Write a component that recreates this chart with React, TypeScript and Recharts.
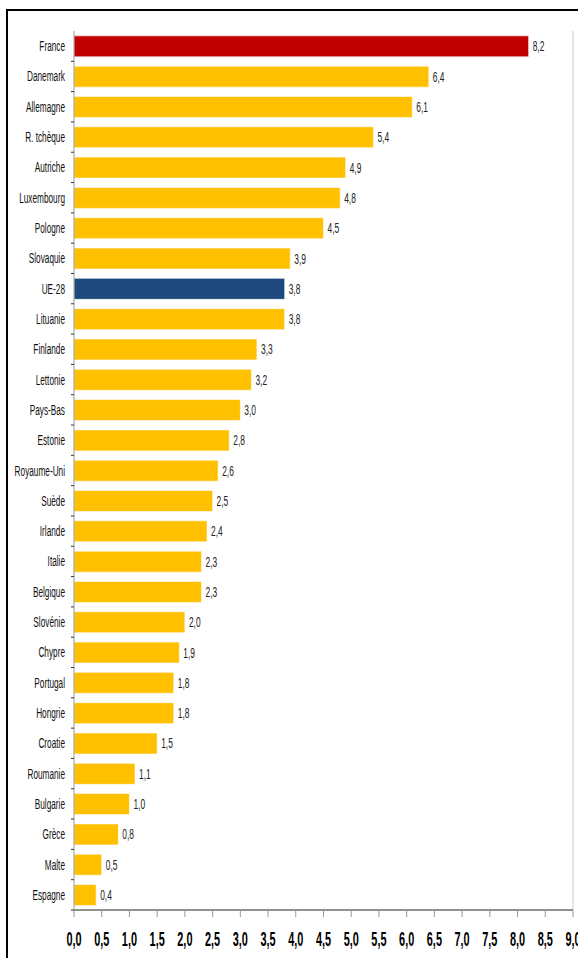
import React from "react";
import { BarChart, Bar, XAxis, YAxis, Cell, LabelList, ReferenceLine } from "recharts";

const countries = [
  "France", "Danemark", "Allemagne", "R. tchèque", "Autriche", "Luxembourg",
  "Pologne", "Slovaquie", "UE-28", "Lituanie", "Finlande", "Lettonie",
  "Pays-Bas", "Estonie", "Royaume-Uni", "Suède", "Irlande", "Italie",
  "Belgique", "Slovénie", "Chypre", "Portugal", "Hongrie", "Croatie",
  "Roumanie", "Bulgarie", "Grèce", "Malte", "Espagne",
];
const values = [
  8.2, 6.4, 6.1, 5.4, 4.9, 4.8, 4.5, 3.9, 3.8, 3.8, 3.3, 3.2, 3.0, 2.8,
  2.6, 2.5, 2.4, 2.3, 2.3, 2.0, 1.9, 1.8, 1.8, 1.5, 1.1, 1.0, 0.8, 0.5, 0.4,
];
const xTicks = [0, 0.5, 1, 1.5, 2, 2.5, 3, 3.5, 4, 4.5, 5, 5.5, 6, 6.5, 7, 7.5, 8, 8.5, 9];

const data = countries.map((name, i) => ({ name, value: values[i] }));

// narrow look of the original: Arial metrics squeezed horizontally
const FONT = "'Liberation Sans', Arial, sans-serif";
const W = 578;
const H = 958;
const MARGIN = { top: 31, right: 5, bottom: 8, left: 0 };
const X_AXIS_H = 40;
const Y_W = 74;
const BAND = (H - MARGIN.top - MARGIN.bottom - X_AXIS_H) / countries.length;

const barColor = (name: string) =>
  name === "France" ? "#C00000" : name === "UE-28" ? "#1F497D" : "#FFC000";

const fmt = (v: number) => v.toFixed(1).replace(".", ",");

function CountryTick(props: any) {
  const { y, payload } = props;
  const axisX = MARGIN.left + Y_W;
  return (
    <g>
      <line x1={axisX - 3} x2={axisX} y1={y + BAND / 2} y2={y + BAND / 2} stroke="#333" strokeWidth={1} />
      <text
        transform={`translate(${axisX - 9}, ${y + 5}) scale(0.55, 1)`}
        textAnchor="end"
        fontSize={15}
        fill="#111"
        fontFamily={FONT}
      >
        {payload.value}
      </text>
    </g>
  );
}

function ValueTick(props: any) {
  const { x, y, payload } = props;
  return (
    <g>
      <text
        transform={`translate(${x}, ${y + 27}) scale(0.52, 1)`}
        textAnchor="middle"
        fontSize={21}
        fontWeight="bold"
        fill="#000"
        fontFamily={FONT}
      >
        {fmt(payload.value)}
      </text>
    </g>
  );
}

function ValueLabel(props: any) {
  const { x, y, width, height, value } = props;
  return (
    <text
      transform={`translate(${x + width + 4}, ${y + height / 2 + 5}) scale(0.6, 1)`}
      textAnchor="start"
      fontSize={14}
      fill="#222"
      fontFamily={FONT}
    >
      {fmt(Number(value))}
    </text>
  );
}

export default function App() {
  return (
    <div style={{ position: "fixed", inset: 0, overflow: "hidden", background: "#fff" }}>
      <div
        style={{
          position: "absolute",
          left: 6,
          top: 9,
          width: 620,
          height: 1000,
          border: "2px solid #000",
        }}
      />
      <div style={{ position: "absolute", left: 0, top: 0 }}>
        <BarChart
          width={W}
          height={H}
          data={data}
          layout="vertical"
          margin={MARGIN}
          barCategoryGap="16%"
        >
          <XAxis
            xAxisId="bottom"
            type="number"
            domain={[0, 9]}
            ticks={xTicks}
            height={X_AXIS_H}
            stroke="#222"
            tickLine={{ stroke: "#999" }}
            tickSize={7}
            interval={0}
            tick={<ValueTick />}
          />
          <XAxis
            xAxisId="top"
            orientation="top"
            type="number"
            domain={[0, 9]}
            height={0}
            tick={false}
            tickLine={false}
            stroke="#333"
          />
          <YAxis
            yAxisId="left"
            type="category"
            dataKey="name"
            width={Y_W}
            stroke="#999"
            tickLine={false}
            interval={0}
            tick={<CountryTick />}
          />
          <ReferenceLine xAxisId="bottom" yAxisId="left" x={9} stroke="#ccc" />
          <Bar
            dataKey="value"
            xAxisId="bottom"
            yAxisId="left"
            isAnimationActive={false}
            stroke="#fff"
            strokeOpacity={0.6}
          >
            {data.map((d) => (
              <Cell key={d.name} fill={barColor(d.name)} />
            ))}
            <LabelList dataKey="value" content={<ValueLabel />} />
          </Bar>
        </BarChart>
      </div>
    </div>
  );
}
